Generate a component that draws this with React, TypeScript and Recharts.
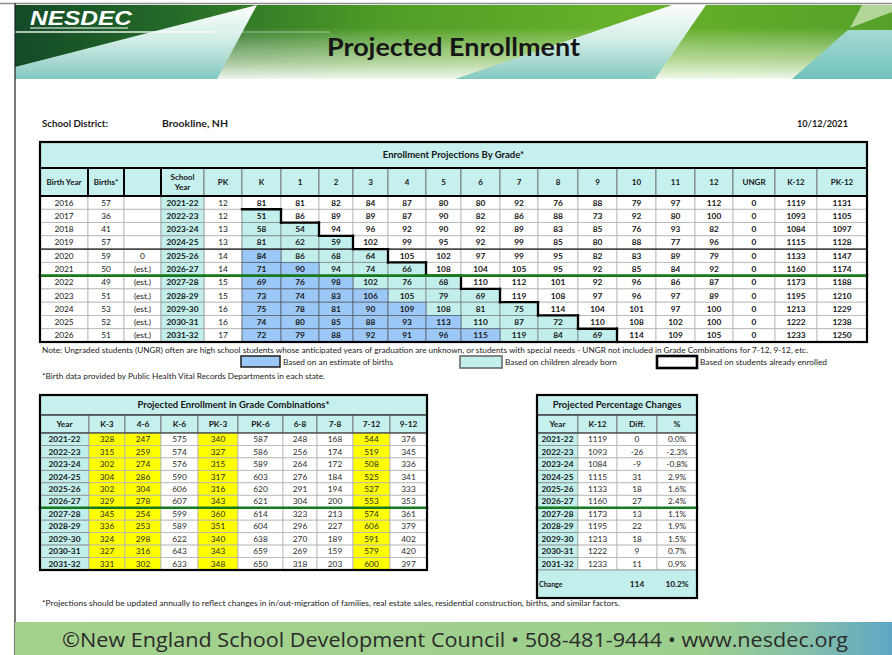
import React from 'react';
import { ScatterChart, Scatter, XAxis, YAxis } from 'recharts';

// ------------------------------------------------------------------
// DATA
// ------------------------------------------------------------------
const birthYears = [2016, 2017, 2018, 2019, 2020, 2021, 2022, 2023, 2024, 2025, 2026];
const births = [57, 36, 41, 57, 59, 50, 49, 51, 53, 52, 51];
const birthFlags = ['', '', '', '', '0', '(est.)', '(est.)', '(est.)', '(est.)', '(est.)', '(est.)'];
const schoolYears = ['2021-22', '2022-23', '2023-24', '2024-25', '2025-26', '2026-27', '2027-28', '2028-29', '2029-30', '2030-31', '2031-32'];
const pkEnroll = [12, 12, 13, 13, 14, 14, 15, 15, 16, 16, 17];

const gradeLabels = ['K', '1', '2', '3', '4', '5', '6', '7', '8', '9', '10', '11', '12'];
const gradeK = [81, 51, 58, 81, 84, 71, 69, 73, 75, 74, 72];
const grade1 = [81, 86, 54, 62, 86, 90, 76, 74, 78, 80, 79];
const grade2 = [82, 89, 94, 59, 68, 94, 98, 83, 81, 85, 88];
const grade3 = [84, 89, 96, 102, 64, 74, 102, 106, 90, 88, 92];
const grade4 = [87, 87, 92, 99, 105, 66, 76, 105, 109, 93, 91];
const grade5 = [80, 90, 90, 95, 102, 108, 68, 79, 108, 113, 96];
const grade6 = [80, 82, 92, 92, 97, 104, 110, 69, 81, 110, 115];
const grade7 = [92, 86, 89, 99, 99, 105, 112, 119, 75, 87, 119];
const grade8 = [76, 88, 83, 85, 95, 95, 101, 108, 114, 72, 84];
const grade9 = [88, 73, 85, 80, 82, 92, 92, 97, 104, 110, 69];
const grade10 = [79, 92, 76, 88, 83, 85, 96, 96, 101, 108, 114];
const grade11 = [97, 80, 93, 77, 89, 84, 86, 97, 97, 102, 109];
const grade12 = [112, 100, 82, 96, 79, 92, 87, 89, 100, 100, 105];
const ungraded = [0, 0, 0, 0, 0, 0, 0, 0, 0, 0, 0];
const totalK12 = [1119, 1093, 1084, 1115, 1133, 1160, 1173, 1195, 1213, 1222, 1233];
const totalPK12 = [1131, 1105, 1097, 1128, 1147, 1174, 1188, 1210, 1229, 1238, 1250];

const mainHeaders = ['Birth Year', 'Births*', '', 'School\nYear', 'PK', ...gradeLabels, 'UNGR', 'K-12', 'PK-12'];

const comboLabels = ['K-3', '4-6', 'K-6', 'PK-3', 'PK-6', '6-8', '7-8', '7-12', '9-12'];
const comboK3 = [328, 315, 302, 304, 302, 329, 345, 336, 324, 327, 331];
const combo46 = [247, 259, 274, 286, 304, 278, 254, 253, 298, 316, 302];
const comboK6 = [575, 574, 576, 590, 606, 607, 599, 589, 622, 643, 633];
const comboPK3 = [340, 327, 315, 317, 316, 343, 360, 351, 340, 343, 348];
const comboPK6 = [587, 586, 589, 603, 620, 621, 614, 604, 638, 659, 650];
const combo68 = [248, 256, 264, 276, 291, 304, 323, 296, 270, 269, 318];
const combo78 = [168, 174, 172, 184, 194, 200, 213, 227, 189, 159, 203];
const combo712 = [544, 519, 508, 525, 527, 553, 574, 606, 591, 579, 600];
const combo912 = [376, 345, 336, 341, 333, 353, 361, 379, 402, 420, 397];
const highlightedCombos = ['K-3', '4-6', 'PK-3', '7-12'];

const pctHeaders = ['Year', 'K-12', 'Diff.', '%'];
const pctDiff = [0, -26, -9, 31, 18, 27, 13, 22, 18, 9, 11];
const pctChange = ['0.0%', '-2.3%', '-0.8%', '2.9%', '1.6%', '2.4%', '1.1%', '1.9%', '1.5%', '0.7%', '0.9%'];
const changeDiff = 114;
const changePct = '10.2%';

// ------------------------------------------------------------------
// LAYOUT / STYLE
// ------------------------------------------------------------------
const FONT = "Lato, 'Open Sans', 'DejaVu Sans', sans-serif";
const CYAN = '#c2efec';
const CYAN_H = '#c6f0ee';
const BLUE = '#9cc8f8';
const YELLOW = '#ffff00';
const GREEN_LINE = '#17781c';

const MAIN = { left: 40, top: 142, colW: [48, 36, 37, 43, 38, 39, 38, 34, 35, 38, 35, 39, 38, 40, 39, 39, 39, 38, 42, 42, 50], titleH: 26, headH: 28, rowH: 146 / 11 };
const COMBO = { left: 40, top: 395, colW: [49, 36, 36, 37, 40, 45, 34, 36, 37, 37], titleH: 20, headH: 18, rowH: 137 / 11 };
const PCT = { left: 537, top: 395, colW: [41, 39, 40, 40], titleH: 20, headH: 18, rowH: 137 / 11, changeH: 28 };

type Rec = {
  kind: 'cell' | 'text' | 'hline' | 'vline' | 'rect';
  x: number; y: number; w: number; h: number;
  text?: string; lines?: string[];
  fill?: string; stroke?: string; sw?: number;
  bold?: boolean; size?: number; color?: string; anchor?: 'start' | 'middle'; dx?: number;
};

const sum = (a: number[]) => a.reduce((s, v) => s + v, 0);
const lefts = (a: number[]) => a.map((_, i) => sum(a.slice(0, i)));

const renderRec = (p: any) => {
  const { cx, cy, payload } = p;
  const r: Rec = payload;
  if (cx == null || cy == null || !r) return <g />;
  const x0 = cx - r.w / 2;
  const y0 = cy - r.h / 2;
  if (r.kind === 'hline') {
    return <line x1={x0} x2={x0 + r.w} y1={cy} y2={cy} stroke={r.stroke} strokeWidth={r.sw} strokeLinecap="square" />;
  }
  if (r.kind === 'vline') {
    return <line x1={cx} x2={cx} y1={y0} y2={y0 + r.h} stroke={r.stroke} strokeWidth={r.sw} strokeLinecap="square" />;
  }
  if (r.kind === 'rect') {
    return <rect x={x0} y={y0} width={r.w} height={r.h} fill="none" stroke={r.stroke} strokeWidth={r.sw} />;
  }
  const lines = r.lines ?? (r.text ? [r.text] : []);
  const size = r.size ?? 8.5;
  const lh = size * 1.3;
  const anchor = r.anchor ?? 'middle';
  const tx = anchor === 'start' ? x0 + (r.dx ?? 3) : cx;
  return (
    <g>
      {r.kind === 'cell' && (
        <rect x={x0} y={y0} width={r.w} height={r.h} fill={r.fill} stroke={r.stroke} strokeWidth={r.sw ?? 0.8} />
      )}
      {lines.map((t, i) => (
        <text
          key={i}
          x={tx}
          y={cy + (i - (lines.length - 1) / 2) * lh + size * 0.36}
          textAnchor={anchor}
          fontSize={size}
          fontWeight={r.bold ? 700 : 400}
          fill={r.color ?? '#161616'}
          fontFamily={FONT}
        >
          {t}
        </text>
      ))}
    </g>
  );
};

function TableChart({ left, top, width, height, cells, edges }: { left: number; top: number; width: number; height: number; cells: Rec[]; edges: Rec[] }) {
  const pad = 2;
  return (
    <div style={{ position: 'absolute', left: left - pad, top: top - pad }}>
      <ScatterChart width={width + pad * 2} height={height + pad * 2} margin={{ top: pad, right: pad, bottom: pad, left: pad }}>
        <XAxis type="number" dataKey="x" domain={[0, width]} hide />
        <YAxis type="number" dataKey="y" domain={[0, height]} reversed hide />
        <Scatter data={cells} shape={renderRec} isAnimationActive={false} />
        <Scatter data={edges} shape={renderRec} isAnimationActive={false} />
      </ScatterChart>
    </div>
  );
}

// ------------------------------------------------------------------
// TABLE BUILDERS
// ------------------------------------------------------------------
function buildMain() {
  const { colW, titleH, headH, rowH } = MAIN;
  const W = sum(colW);
  const H = titleH + headH + rowH * schoolYears.length;
  const L = lefts(colW);
  const cxOf = (c: number) => L[c] + colW[c] / 2;
  const dataTop = titleH + headH;
  const grades = [gradeK, grade1, grade2, grade3, grade4, grade5, grade6, grade7, grade8, grade9, grade10, grade11, grade12];
  const status = (row: number, g: number) => (g <= row - 4 ? 'blue' : g <= row - 1 ? 'cyan' : 'white');

  const head: Rec[] = [];
  const whites: Rec[] = [];
  const cyans: Rec[] = [];
  const blues: Rec[] = [];
  head.push({ kind: 'cell', x: W / 2, y: titleH / 2, w: W, h: titleH, fill: CYAN_H, stroke: '#444', text: 'Enrollment Projections By Grade*', bold: true, size: 9.5 });
  mainHeaders.forEach((lab, c) => {
    head.push({ kind: 'cell', x: cxOf(c), y: titleH + headH / 2, w: colW[c], h: headH, fill: CYAN_H, stroke: '#666', lines: lab ? lab.split('\n') : [], bold: true, size: 8 });
  });
  schoolYears.forEach((sy, i) => {
    const vals: (string | number)[] = [birthYears[i], births[i], birthFlags[i], sy, pkEnroll[i], ...grades.map((g) => g[i]), ungraded[i], totalK12[i], totalPK12[i]];
    const y = dataTop + rowH * (i + 0.5);
    vals.forEach((v, c) => {
      const base: Rec = { kind: 'cell', x: cxOf(c), y, w: colW[c], h: rowH, text: String(v), size: 8.3, fill: '#ffffff', stroke: '#b4b4b4' };
      if (c <= 2 || c === 4) {
        whites.push(base);
      } else if (c === 3) {
        cyans.push({ ...base, fill: CYAN, stroke: '#9a9a9a', bold: true });
      } else if (c >= 5 && c <= 17) {
        const s = status(i, c - 5);
        if (s === 'blue') blues.push({ ...base, fill: BLUE, stroke: '#5a6470', bold: true });
        else if (s === 'cyan') cyans.push({ ...base, fill: CYAN, stroke: '#7d8a89', bold: true });
        else whites.push({ ...base, bold: true });
      } else {
        whites.push({ ...base, bold: true });
      }
    });
  });

  const edges: Rec[] = [];
  edges.push({ kind: 'hline', x: W / 2, y: titleH, w: W, h: 0, stroke: '#000', sw: 1.8 });
  edges.push({ kind: 'hline', x: W / 2, y: dataTop, w: W, h: 0, stroke: '#000', sw: 2 });
  [1, 2, 3].forEach((c) => edges.push({ kind: 'vline', x: L[c], y: titleH + headH / 2, w: 0, h: headH, stroke: '#000', sw: 2 }));
  edges.push({ kind: 'hline', x: W / 2, y: dataTop + rowH * 4, w: W, h: 0, stroke: '#1a1a1a', sw: 1.3 });
  for (let i = 1; i < schoolYears.length; i++) {
    const c = 5 + (i - 1);
    if (c > 17) continue;
    edges.push({ kind: 'hline', x: cxOf(c), y: dataTop + rowH * i, w: colW[c], h: 0, stroke: '#000', sw: 2.3 });
    edges.push({ kind: 'vline', x: L[c] + colW[c], y: dataTop + rowH * (i + 0.5), w: 0, h: rowH, stroke: '#000', sw: 2.3 });
  }
  edges.push({ kind: 'hline', x: W / 2, y: dataTop + rowH * 6, w: W, h: 0, stroke: GREEN_LINE, sw: 2.6 });
  edges.push({ kind: 'rect', x: W / 2, y: H / 2, w: W, h: H, stroke: '#000', sw: 2.2 });
  return { W, H, cells: [...head, ...whites, ...cyans, ...blues], edges };
}

function buildCombo() {
  const { colW, titleH, headH, rowH } = COMBO;
  const W = sum(colW);
  const H = titleH + headH + rowH * schoolYears.length;
  const L = lefts(colW);
  const cxOf = (c: number) => L[c] + colW[c] / 2;
  const dataTop = titleH + headH;
  const combos = [comboK3, combo46, comboK6, comboPK3, comboPK6, combo68, combo78, combo712, combo912];
  const cells: Rec[] = [];
  cells.push({ kind: 'cell', x: W / 2, y: titleH / 2, w: W, h: titleH, fill: CYAN_H, stroke: '#444', text: 'Projected Enrollment in Grade Combinations*', bold: true, size: 9.5 });
  ['Year', ...comboLabels].forEach((lab, c) => {
    cells.push({ kind: 'cell', x: cxOf(c), y: titleH + headH / 2, w: colW[c], h: headH, fill: CYAN_H, stroke: '#666', text: lab, bold: true, size: 8.3 });
  });
  schoolYears.forEach((sy, i) => {
    const y = dataTop + rowH * (i + 0.5);
    cells.push({ kind: 'cell', x: cxOf(0), y, w: colW[0], h: rowH, fill: CYAN, stroke: '#8a8a8a', text: sy, bold: true, size: 8.3 });
    combos.forEach((arr, k) => {
      const c = k + 1;
      const hl = highlightedCombos.includes(comboLabels[k]);
      cells.push({ kind: 'cell', x: cxOf(c), y, w: colW[c], h: rowH, fill: hl ? YELLOW : '#ffffff', stroke: '#b4b4b4', text: String(arr[i]), size: 8.3, color: '#2a2a2a' });
    });
  });
  const edges: Rec[] = [];
  edges.push({ kind: 'hline', x: W / 2, y: titleH, w: W, h: 0, stroke: '#222', sw: 1.2 });
  edges.push({ kind: 'hline', x: W / 2, y: dataTop, w: W, h: 0, stroke: '#222', sw: 1.2 });
  edges.push({ kind: 'hline', x: W / 2, y: dataTop + rowH * 6, w: W, h: 0, stroke: GREEN_LINE, sw: 2.6 });
  edges.push({ kind: 'rect', x: W / 2, y: H / 2, w: W, h: H, stroke: '#000', sw: 2.2 });
  return { W, H, cells, edges };
}

function buildPct() {
  const { colW, titleH, headH, rowH, changeH } = PCT;
  const W = sum(colW);
  const dataTop = titleH + headH;
  const H = dataTop + rowH * schoolYears.length + changeH;
  const L = lefts(colW);
  const cxOf = (c: number) => L[c] + colW[c] / 2;
  const cells: Rec[] = [];
  cells.push({ kind: 'cell', x: W / 2, y: titleH / 2, w: W, h: titleH, fill: CYAN_H, stroke: '#444', text: 'Projected Percentage Changes', bold: true, size: 9.5 });
  pctHeaders.forEach((lab, c) => {
    cells.push({ kind: 'cell', x: cxOf(c), y: titleH + headH / 2, w: colW[c], h: headH, fill: CYAN_H, stroke: '#666', text: lab, bold: true, size: 8.3 });
  });
  schoolYears.forEach((sy, i) => {
    const y = dataTop + rowH * (i + 0.5);
    const vals = [sy, String(totalK12[i]), String(pctDiff[i]), pctChange[i]];
    vals.forEach((v, c) => {
      if (c === 0) cells.push({ kind: 'cell', x: cxOf(c), y, w: colW[c], h: rowH, fill: CYAN, stroke: '#8a8a8a', text: v, bold: true, size: 8.3 });
      else cells.push({ kind: 'cell', x: cxOf(c), y, w: colW[c], h: rowH, fill: '#ffffff', stroke: '#b4b4b4', text: v, size: 8.3, color: '#2a2a2a' });
    });
  });
  const cy = dataTop + rowH * schoolYears.length + changeH / 2;
  cells.push({ kind: 'cell', x: W / 2, y: cy, w: W, h: changeH, fill: CYAN, stroke: '#8a8a8a', text: 'Change', bold: true, size: 7, anchor: 'start', dx: 2 });
  cells.push({ kind: 'text', x: cxOf(2), y: cy, w: colW[2], h: changeH, text: String(changeDiff), bold: true, size: 8.3 });
  cells.push({ kind: 'text', x: cxOf(3), y: cy, w: colW[3], h: changeH, text: changePct, bold: true, size: 8.3 });
  const edges: Rec[] = [];
  edges.push({ kind: 'hline', x: W / 2, y: titleH, w: W, h: 0, stroke: '#222', sw: 1.2 });
  edges.push({ kind: 'hline', x: W / 2, y: dataTop, w: W, h: 0, stroke: '#222', sw: 1.2 });
  edges.push({ kind: 'hline', x: W / 2, y: dataTop + rowH * 6, w: W, h: 0, stroke: GREEN_LINE, sw: 2.6 });
  edges.push({ kind: 'rect', x: W / 2, y: H / 2, w: W, h: H, stroke: '#000', sw: 2.2 });
  return { W, H, cells, edges };
}

// ------------------------------------------------------------------
// PAGE DECORATION
// ------------------------------------------------------------------
function PageArt() {
  const t = (x: number, y: number, s: string, size: number, len: number, extra: any = {}) => (
    <text x={x} y={y} fontSize={size} fontFamily={FONT} textLength={len} lengthAdjust="spacingAndGlyphs" fill="#1a1a1a" {...extra}>
      {s}
    </text>
  );
  return (
    <svg width={892} height={655} style={{ position: 'absolute', left: 0, top: 0 }}>
      <defs>
        <linearGradient id="gBase" x1="0" y1="0" x2="1" y2="0">
          <stop offset="0" stopColor="#134a27" />
          <stop offset="0.2" stopColor="#276e28" />
          <stop offset="0.42" stopColor="#4f9d26" />
          <stop offset="0.7" stopColor="#68b22a" />
          <stop offset="1" stopColor="#55a028" />
        </linearGradient>
        <linearGradient id="gFade" x1="0" y1="0" x2="0" y2="1">
          <stop offset="0.3" stopColor="#ffffff" stopOpacity="0" />
          <stop offset="0.75" stopColor="#eef6e2" stopOpacity="0.6" />
          <stop offset="1" stopColor="#ffffff" stopOpacity="0.92" />
        </linearGradient>
        <linearGradient id="gTeal" x1="0" y1="0" x2="0" y2="1">
          <stop offset="0" stopColor="#fbfdfb" />
          <stop offset="0.45" stopColor="#d6eee8" />
          <stop offset="1" stopColor="#84c9c0" />
        </linearGradient>
        <linearGradient id="gTeal2" x1="0" y1="0" x2="0" y2="1">
          <stop offset="0" stopColor="#a4dad2" />
          <stop offset="1" stopColor="#70c1bd" />
        </linearGradient>
        <linearGradient id="gFoot" x1="0" y1="0" x2="1" y2="0">
          <stop offset="0" stopColor="#a4d28c" />
          <stop offset="0.78" stopColor="#9ccf8e" />
          <stop offset="0.9" stopColor="#86c0a8" />
          <stop offset="1" stopColor="#5ea6c6" />
        </linearGradient>
      </defs>
      <rect x={0} y={0} width={892} height={655} fill="#ffffff" />
      {/* banner */}
      <rect x={15} y={5} width={877} height={74} fill="url(#gBase)" />
      <rect x={217} y={5} width={675} height={74} fill="url(#gFade)" />
      <polygon points="257,5 217,79 15,79 15,67" fill="url(#gTeal)" />
      <polygon points="672,5 706,5 655,79 455,79" fill="url(#gTeal)" />
      <polygon points="848,30 892,30 892,79 792,79" fill="url(#gTeal2)" />
      <polygon points="862,5 892,5 892,12 850,28" fill="#d8ecc6" opacity={0.7} />
      <line x1={15} x2={213} y1={32} y2={32} stroke="#ffffff" strokeWidth={1.4} opacity={0.9} />
      <line x1={213} x2={330} y1={32} y2={32} stroke="#ffffff" strokeWidth={1} opacity={0.45} />
      <text x={30} y={25} fontSize={21} fontWeight={700} fontStyle="italic" fontFamily="'Liberation Sans', Arial, sans-serif" fill="#ffffff" textLength={102} lengthAdjust="spacingAndGlyphs">
        NESDEC
      </text>
      <line x1={30} x2={128} y1={28} y2={28} stroke="#ffffff" strokeWidth={1.2} />
      {t(327, 56, 'Projected Enrollment', 25, 253, { fontWeight: 700, fill: '#161616' })}
      {/* frame */}
      <line x1={0} x2={892} y1={3.5} y2={3.5} stroke="#8c8c8c" strokeWidth={1.5} />
      <line x1={15} x2={15} y1={3} y2={655} stroke="#1e1e1e" strokeWidth={1.2} />
      {/* header info */}
      {t(42, 127, 'School District:', 8.5, 66, { fontWeight: 700 })}
      {t(162, 127, 'Brookline, NH', 8.5, 66, { fontWeight: 700 })}
      {t(797, 127, '10/12/2021', 8.5, 51, { fontWeight: 700 })}
      {/* notes & legend */}
      {t(42, 353, 'Note: Ungraded students (UNGR) often are high school students whose anticipated years of graduation are unknown, or students with special needs - UNGR not included in Grade Combinations for 7-12, 9-12, etc.', 8, 766, { fill: '#222' })}
      <rect x={241} y={356} width={39} height={11} fill={BLUE} stroke="#2a2a2a" strokeWidth={1.6} />
      {t(283, 365, 'Based on an estimate of births', 8, 110, { fill: '#222' })}
      <rect x={460} y={356} width={42} height={12} fill={CYAN} stroke="#6a6a6a" strokeWidth={1.6} />
      {t(505, 365, 'Based on children already born', 8, 112, { fill: '#222' })}
      <rect x={657} y={356} width={40} height={12} fill="#ffffff" stroke="#000" strokeWidth={2.6} />
      {t(700, 365, 'Based on students already enrolled', 8, 127, { fill: '#222' })}
      {t(42, 379, '*Birth data provided by Public Health Vital Records Departments in each state.', 8, 283, { fill: '#222' })}
      {t(42, 606, '*Projections should be updated annually to reflect changes in in/out-migration of families, real estate sales, residential construction, births, and similar factors.', 8, 578, { fill: '#222' })}
      {/* footer */}
      <rect x={15} y={622} width={877} height={33} fill="url(#gFoot)" />
      <text x={62} y={647} fontSize={20} fontFamily="'Open Sans', Lato, sans-serif" fill="#2b2b2b" textLength={786} lengthAdjust="spacingAndGlyphs">
        ©New England School Development Council • 508-481-9444 • www.nesdec.org
      </text>
    </svg>
  );
}

export default function App() {
  const main = buildMain();
  const combo = buildCombo();
  const pct = buildPct();
  return (
    <div style={{ position: 'absolute', left: 0, top: 0, width: 892, height: 655, overflow: 'hidden', background: '#fff', fontFamily: FONT }}>
      <PageArt />
      <TableChart left={MAIN.left} top={MAIN.top} width={main.W} height={main.H} cells={main.cells} edges={main.edges} />
      <TableChart left={COMBO.left} top={COMBO.top} width={combo.W} height={combo.H} cells={combo.cells} edges={combo.edges} />
      <TableChart left={PCT.left} top={PCT.top} width={pct.W} height={pct.H} cells={pct.cells} edges={pct.edges} />
    </div>
  );
}
